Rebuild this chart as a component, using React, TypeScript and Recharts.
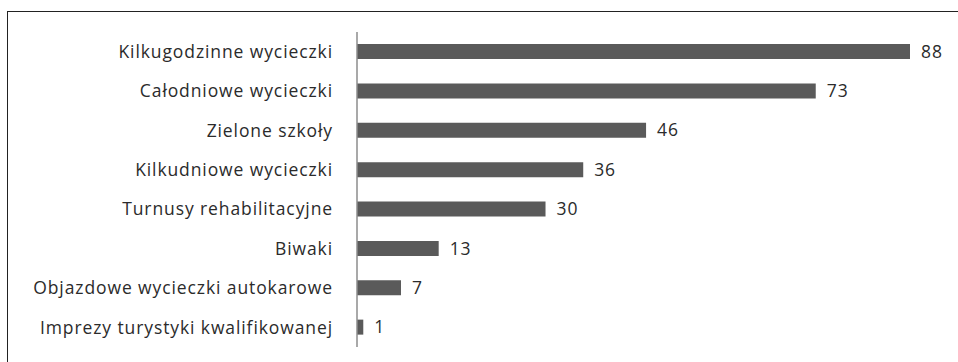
import { Bar, BarChart, LabelList, XAxis, YAxis } from "recharts";

const categories = [
  "Kilkugodzinne wycieczki",
  "Całodniowe wycieczki",
  "Zielone szkoły",
  "Kilkudniowe wycieczki",
  "Turnusy rehabilitacyjne",
  "Biwaki",
  "Objazdowe wycieczki autokarowe",
  "Imprezy turystyki kwalifikowanej",
];
const values = [88, 73, 46, 36, 30, 13, 7, 1];

const data = categories.map((name, i) => ({ name, value: values[i] }));

const FONT = "'Open Sans', sans-serif";

export default function App() {
  return (
    <div
      style={{
        position: "absolute",
        left: 0,
        top: 0,
        width: 958,
        height: 362,
        background: "#fff",
        overflow: "hidden",
      }}
    >
      <div
        style={{
          position: "absolute",
          left: 7,
          top: 11,
          width: 960,
          height: 360,
          borderLeft: "1.5px solid #222",
          borderTop: "1.5px solid #222",
        }}
      />
      <div style={{ position: "absolute", left: 0, top: 0 }}>
        <BarChart
          width={958}
          height={362}
          data={data}
          layout="vertical"
          margin={{ top: 32, right: 48, bottom: 15, left: 0 }}
          barCategoryGap={12}
        >
          <XAxis type="number" domain={[0, 88]} hide />
          <YAxis
            type="category"
            dataKey="name"
            width={357}
            axisLine={{ stroke: "#8c8c8c", strokeWidth: 1.5 }}
            tickLine={false}
            tickMargin={18}
            tick={{ fill: "#2b2b2b", fontSize: 17.5, fontFamily: FONT, letterSpacing: 0.9 }}
            interval={0}
          />
          <Bar dataKey="value" fill="#5a5a5a" barSize={15} isAnimationActive={false}>
            <LabelList
              dataKey="value"
              position="right"
              offset={11}
              fill="#2b2b2b"
              fontSize={17.5}
              fontFamily={FONT}
              letterSpacing={0.9}
            />
          </Bar>
        </BarChart>
      </div>
    </div>
  );
}
